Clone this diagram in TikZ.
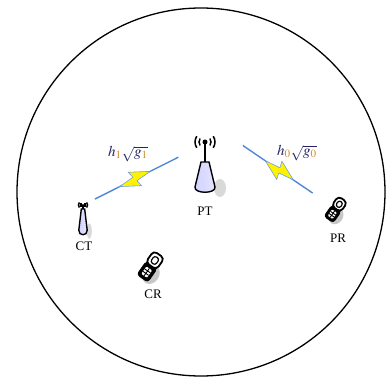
\documentclass[tikz,border=0pt]{standalone}
\usepackage{mathptmx}
\usepackage{fontspec}
\setmainfont{Liberation Serif}
\usetikzlibrary{decorations.markings}

\definecolor{linkblue}{RGB}{80,135,215}
\definecolor{hcol}{RGB}{35,35,95}
\definecolor{subcol}{RGB}{205,135,40}

\tikzset{
  waves/.pic={
    \fill (0,0) circle (2.5);
    \foreach \r in {6,10}{
      \draw[line width=1.5pt] (0,0) ++(145:\r) arc (145:215:\r);
      \draw[line width=1.5pt] (0,0) ++(-35:\r) arc (-35:35:\r);
    }
  },
  tower/.pic={
    \fill[black!15] (15,26) ellipse (6 and 9);
    \draw[line width=1.4pt, left color=blue!18!white, middle color=white, right color=blue!10!white]
      (-4,0) -- (-10,25) .. controls (-11,32) and (11,32) .. (10,25) -- (4,0) -- cycle;
  },
  phone/.pic={
    \fill[black!22] (-5,-7) ellipse (8 and 10);
    \filldraw[fill=black, line width=1pt, rounded corners=3pt] (-6.5,-15) rectangle (6.5,1);
    \fill[white, rounded corners=1pt] (-3.5,-12) rectangle (3.5,-3);
    \draw[line width=0.9pt] (-3.5,-9) -- (3.5,-9) (-3.5,-6) -- (3.5,-6) (0,-12) -- (0,-3);
    \filldraw[fill=white, line width=1.8pt, rounded corners=4pt] (-6.5,0) rectangle (6.5,14);
    \draw[line width=1.2pt, rounded corners=2.5pt] (-3,3) rectangle (3,10.5);
  },
  link/.style={draw=linkblue, line width=1.4pt, postaction={decorate},
    decoration={markings, mark=at position #1 with {
      \filldraw[fill=yellow, draw=linkblue!80, line width=0.6pt]
        (-17,0) -- (3,9) -- (1,2.5) -- (17,0) -- (-3,-9) -- (-1,-2.5) -- cycle;}}}
}

\begin{document}
\begin{tikzpicture}[x=1pt,y=-1pt]
  \tikzstyle{dev}=[inner sep=0pt, minimum size=0pt]
  \tikzstyle{lbl}=[font=\fontsize{13}{15}\selectfont]
  \tikzstyle{gain}=[font=\fontsize{15}{17}\selectfont]
  \tikzstyle{mast}=[line width=1.5pt]
  \useasboundingbox (0,0) rectangle (386,377);

  % cell border
  \draw[line width=1.3pt] (201,192) circle (184);

  \node[dev, minimum width=44pt, minimum height=40pt] (PT) at (205,155) {};
  \node[dev] (CT) at (83,205) {};
  \node[dev] (PR) at (336,209) {};
  \node[dev] (CR) at (151,266) {};

  % transmitters
  \pic at (205,162) {tower};
  \draw[mast] (205,142) -- (205,162);
  \pic at (205,142) {waves};
  \pic[xscale=0.42, yscale=0.85] at (83,209) {tower};
  \draw[mast] (83,205) -- (83,209);
  \pic[scale=0.45] at (83,205) {waves};

  % receivers
  \pic[rotate=145, scale=0.85] at (PR) {phone};
  \pic[rotate=145] at (CR) {phone};

  % links
  \draw[link=0.52, shorten <=13pt, shorten >=5pt] (CT) -- (PT.west);
  \draw[link=0.48, shorten <=19pt, shorten >=28pt] (PT.north east) -- (PR);

  \node[lbl] (PT-name) at (205,211) {PT};
  \node[lbl] (CT-name) at (84,246) {CT};
  \node[lbl] (PR-name) at (338,238) {PR};
  \node[lbl] (CR-name) at (153,294) {CR};
  \node[gain] (h1) at (128,154) {$\color{hcol}h_{\color{subcol}1}\sqrt{g_{\color{subcol}1}}$};
  \node[gain] (h0) at (297,153) {$\color{hcol}h_{\color{subcol}0}\sqrt{g_{\color{subcol}0}}$};
\end{tikzpicture}
\end{document}
